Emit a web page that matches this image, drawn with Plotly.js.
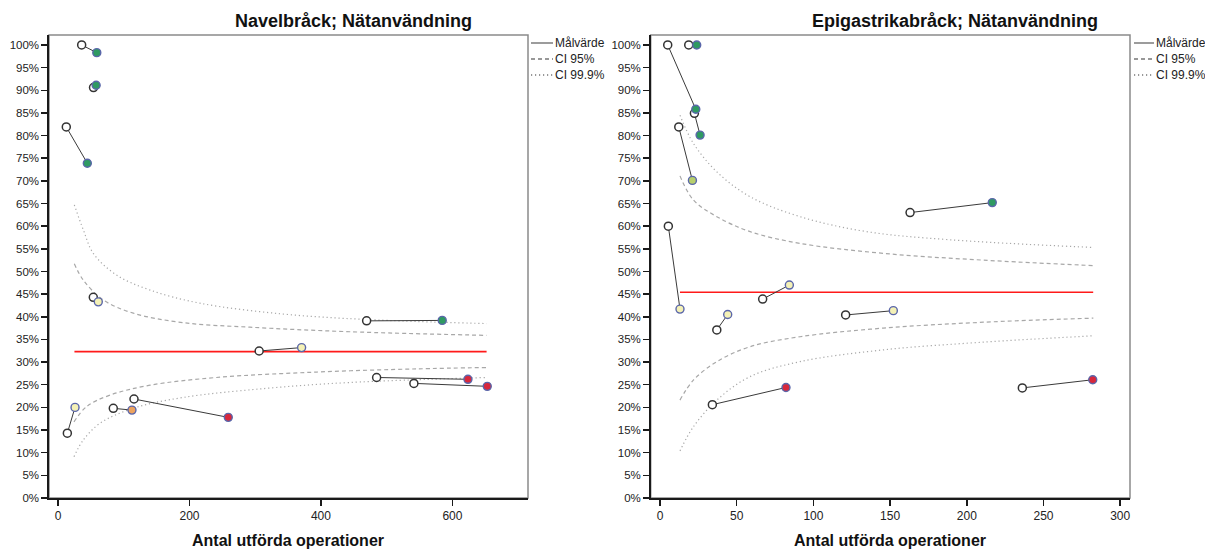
<!DOCTYPE html>
<html>
<head>
<meta charset="utf-8">
<script src="https://cdn.plot.ly/plotly-3.0.1.min.js"></script>
<style>
  html, body { margin: 0; padding: 0; background: #fff; }
  #chart { width: 1205px; height: 549px; }
</style>
</head>
<body>
<div id="chart"></div>
<script>
// ---------- Data: Navelbråck ----------
const navelPrevN = [36, 54, 12.6, 53.7, 306, 14.2, 84.1, 115.6, 469.5, 484.7, 541.4];
const navelPrevP = [100, 90.6, 81.9, 44.3, 32.45, 14.3, 19.8, 21.85, 39.1, 26.6, 25.3];
const navelCurN  = [59, 58, 44.6, 61.3, 370.6, 25.9, 112.5, 259, 584.5, 623.6, 653];
const navelCurP  = [98.3, 91.1, 73.9, 43.3, 33.2, 20.0, 19.4, 17.8, 39.2, 26.2, 24.65];
const navelLevel = ['hög', 'hög', 'hög', 'inom', 'inom', 'inom', 'låg95', 'låg', 'hög', 'låg', 'låg'];

const navelTargetN = [25, 652];
const navelTargetP = [32.3, 32.3];

const navelUp999N = [24.8, 38.5, 53.7, 89.2, 140, 216, 343, 469.5, 652];
const navelUp999P = [64.7, 59.2, 54.0, 49.2, 45.9, 43.0, 40.6, 39.4, 38.5];
const navelUp95N  = [24.8, 38.5, 69, 114.5, 190.6, 292, 444, 652];
const navelUp95P  = [51.7, 48.1, 43.7, 40.8, 38.7, 37.7, 36.7, 35.9];
const navelLo95N  = [24.3, 43.6, 79, 140, 241, 393, 545.5, 652];
const navelLo95P  = [16.8, 20.2, 22.7, 24.9, 26.6, 27.8, 28.5, 28.8];
const navelLo999N = [24.3, 38.5, 63.9, 114.5, 190.6, 317, 444, 652];
const navelLo999P = [9.1, 12.8, 16.5, 19.8, 22.2, 24.2, 25.5, 26.6];

// ---------- Data: Epigastrikabråck ----------
const epiPrevN = [5, 18.7, 22.4, 12.2, 5.4, 37, 66.9, 121, 34.1, 163, 236.2];
const epiPrevP = [100, 100, 84.9, 81.9, 60, 37.1, 43.9, 40.4, 20.6, 63, 24.3];
const epiCurN  = [23.3, 23.9, 26.1, 21.1, 13, 44.1, 84.3, 152.1, 82.1, 216.6, 282.1];
const epiCurP  = [85.8, 100, 80.1, 70.1, 41.7, 40.5, 47.0, 41.35, 24.4, 65.2, 26.1];
const epiLevel = ['hög', 'hög', 'hög', 'hög95', 'inom', 'inom', 'inom', 'inom', 'låg', 'hög', 'låg'];

const epiTargetN = [13, 282.4];
const epiTargetP = [45.4, 45.4];

const epiUp999N = [13, 21.7, 37, 58.7, 91.3, 134.7, 189, 282.5];
const epiUp999P = [84.5, 78.3, 72.0, 66.5, 62.1, 58.8, 57.0, 55.3];
const epiUp95N  = [13, 21.7, 37, 58.7, 91.3, 145.6, 210.8, 282.5];
const epiUp95P  = [71.1, 65.8, 62.1, 58.8, 56.2, 54.0, 52.5, 51.3];
const epiLo95N  = [13, 21.7, 37, 58.7, 91.3, 145.6, 210.8, 282.5];
const epiLo95P  = [21.6, 26.0, 30.1, 33.4, 35.6, 37.5, 38.8, 39.7];
const epiLo999N = [13, 21.7, 37, 58.7, 91.3, 145.6, 210.8, 282.5];
const epiLo999P = [10.4, 15.7, 21.6, 26.8, 30.1, 32.7, 34.4, 35.8];

// ---------- Styling ----------
const levelColor = {
  'hög':   '#2f9a62',
  'hög95': '#b7cf6c',
  'inom':  '#f4f1b6',
  'låg95': '#eda35f',
  'låg':   '#d8283c'
};
const FONT = 'Liberation Sans, Arial, sans-serif';
const CI_COLOR = '#a8a8a8';

function panelTraces(xa, ya, prevN, prevP, curN, curP, level, tN, tP, curves) {
  const traces = [];
  curves.forEach(c => {
    traces.push({
      x: c.n, y: c.p, xaxis: xa, yaxis: ya, type: 'scatter', mode: 'lines',
      line: { color: CI_COLOR, width: 1.2, dash: c.dash, shape: 'spline', smoothing: 1 },
      hoverinfo: 'skip', showlegend: false
    });
  });
  traces.push({
    x: tN, y: tP, xaxis: xa, yaxis: ya, type: 'scatter', mode: 'lines',
    line: { color: '#ff1a1a', width: 1.6 }, hoverinfo: 'skip', showlegend: false
  });
  const cx = [], cy = [];
  prevN.forEach((v, i) => { cx.push(v, curN[i], null); cy.push(prevP[i], curP[i], null); });
  traces.push({
    x: cx, y: cy, xaxis: xa, yaxis: ya, type: 'scatter', mode: 'lines',
    line: { color: '#3a3a3a', width: 1 }, hoverinfo: 'skip', showlegend: false
  });
  traces.push({
    x: prevN, y: prevP, xaxis: xa, yaxis: ya, type: 'scatter', mode: 'markers',
    marker: { size: 8, color: '#ffffff', line: { color: '#333333', width: 1.5 } },
    cliponaxis: false, showlegend: false
  });
  traces.push({
    x: curN, y: curP, xaxis: xa, yaxis: ya, type: 'scatter', mode: 'markers',
    marker: { size: 8, color: level.map(l => levelColor[l]), line: { color: '#5a66aa', width: 1.4 } },
    cliponaxis: false, showlegend: false
  });
  return traces;
}

const DOT = '1.2px,2.8px';
const DASH = '4px,3px';

const data = [].concat(
  panelTraces('x', 'y', navelPrevN, navelPrevP, navelCurN, navelCurP, navelLevel,
    navelTargetN, navelTargetP, [
      { n: navelUp999N, p: navelUp999P, dash: DOT },
      { n: navelUp95N,  p: navelUp95P,  dash: DASH },
      { n: navelLo95N,  p: navelLo95P,  dash: DASH },
      { n: navelLo999N, p: navelLo999P, dash: DOT }
    ]),
  panelTraces('x2', 'y2', epiPrevN, epiPrevP, epiCurN, epiCurP, epiLevel,
    epiTargetN, epiTargetP, [
      { n: epiUp999N, p: epiUp999P, dash: DOT },
      { n: epiUp95N,  p: epiUp95P,  dash: DASH },
      { n: epiLo95N,  p: epiLo95P,  dash: DASH },
      { n: epiLo999N, p: epiLo999P, dash: DOT }
    ])
);

const W = 1205, H = 549;
const px = v => v / W;
const py = v => 1 - v / H;

const yDomain = [py(498), py(35)];

function xAxis(domain, range, dtick) {
  return {
    domain: domain, range: range, dtick: dtick, tick0: 0,
    showgrid: false, zeroline: false, showline: true, linecolor: '#1a1a1a', linewidth: 1.6,
    ticks: 'outside', ticklen: 6, tickwidth: 1.5, tickcolor: '#1a1a1a',
    tickfont: { family: FONT, size: 12, color: '#222' }, fixedrange: true
  };
}
function yAxis(anchor) {
  return {
    domain: yDomain, range: [0, 102.2], dtick: 5, tick0: 0, ticksuffix: '%', anchor: anchor,
    showgrid: false, zeroline: false, showline: true, linecolor: '#1a1a1a', linewidth: 1.6,
    ticks: 'outside', ticklen: 6, tickwidth: 1.5, tickcolor: '#1a1a1a',
    tickfont: { family: FONT, size: 11.5, color: '#222' }, fixedrange: true
  };
}

const frame = (xr, yr) => ({
  type: 'rect', xref: xr + ' domain', yref: yr + ' domain', x0: 0, x1: 1, y0: 0, y1: 1,
  line: { color: '#8a8a8a', width: 1.5 }, layer: 'below'
});

function legendItems(x0, x1) {
  const items = [
    { label: 'Målvärde', y: 43, dash: 'solid', color: '#666' },
    { label: 'CI 95%', y: 59, dash: DASH, color: '#777' },
    { label: 'CI 99.9%', y: 75, dash: DOT, color: '#777' }
  ];
  const shapes = items.map(it => ({
    type: 'line', xref: 'paper', yref: 'paper', x0: px(x0), x1: px(x1), y0: py(it.y), y1: py(it.y),
    line: { color: it.color, width: 1.3, dash: it.dash }
  }));
  const ann = items.map(it => ({
    xref: 'paper', yref: 'paper', x: px(x1), y: py(it.y), xanchor: 'left', yanchor: 'middle',
    text: it.label, showarrow: false, font: { family: FONT, size: 12, color: '#222' }
  }));
  return { shapes, ann };
}
const legL = legendItems(531, 553);
const legR = legendItems(1134, 1154);

const annotations = [
  { xref: 'paper', yref: 'paper', x: px(353), y: py(21), xanchor: 'center', yanchor: 'middle',
    text: 'Navelbråck; Nätanvändning', showarrow: false,
    font: { family: FONT, size: 18, color: '#111', weight: 700 } },
  { xref: 'paper', yref: 'paper', x: px(955), y: py(21), xanchor: 'center', yanchor: 'middle',
    text: 'Epigastrikabråck; Nätanvändning', showarrow: false,
    font: { family: FONT, size: 18, color: '#111', weight: 700 } },
  { xref: 'paper', yref: 'paper', x: px(288), y: py(540), xanchor: 'center', yanchor: 'middle',
    text: 'Antal utförda operationer', showarrow: false,
    font: { family: FONT, size: 16, color: '#111', weight: 700 } },
  { xref: 'paper', yref: 'paper', x: px(890), y: py(540), xanchor: 'center', yanchor: 'middle',
    text: 'Antal utförda operationer', showarrow: false,
    font: { family: FONT, size: 16, color: '#111', weight: 700 } }
].concat(legL.ann, legR.ann);

const layout = {
  width: W, height: H,
  margin: { l: 0, r: 0, t: 0, b: 0 },
  paper_bgcolor: '#ffffff', plot_bgcolor: '#ffffff',
  showlegend: false,
  xaxis: Object.assign(xAxis([px(49), px(528)], [-13.7, 715], 200), { anchor: 'y' }),
  yaxis: yAxis('x'),
  xaxis2: Object.assign(xAxis([px(650.7), px(1130)], [-6.1, 306.4], 50), { anchor: 'y2' }),
  yaxis2: yAxis('x2'),
  shapes: [frame('x', 'y'), frame('x2', 'y2')].concat(legL.shapes, legR.shapes),
  annotations: annotations,
  font: { family: FONT }
};

Plotly.newPlot('chart', data, layout, { displayModeBar: false, staticPlot: true });
</script>
</body>
</html>
